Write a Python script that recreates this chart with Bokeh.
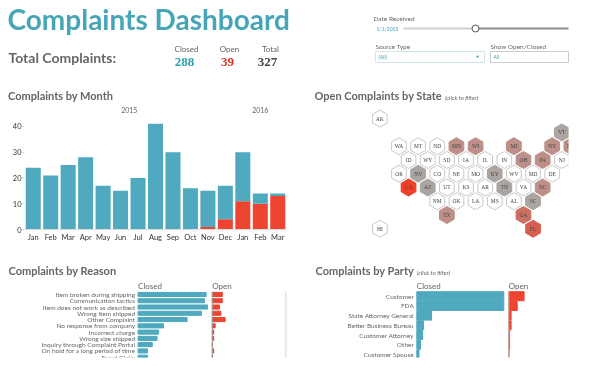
from bokeh.plotting import figure
from bokeh.layouts import column, row
from bokeh.models import Range1d, ColumnDataSource
from bokeh.core.properties import value
from bokeh.embed import file_html
from bokeh.resources import INLINE

# ---------- data ----------
months = ["Jan","Feb","Mar","Apr","May","Jun","Jul","Aug","Sep","Oct","Nov","Dec","Jan","Feb","Mar"]
month_total = [24,21,25,28,17,15,20,41,30,16,15,17,30,14,14]
month_open = [0,0,0,0,0,0,0,0,0,0,1,4,11,10,13]
years = ["2015","2016"]
year_center = [5.5,13]

states = ["AK","VT","WA","MT","ND","MN","WI","MI","NY","MA","ID","WY","SD","IA","IL","IN","OH","PA","NJ",
          "OR","NV","CO","NE","MO","KY","WV","MD","DE","CA","AZ","UT","KS","AR","TN","VA","NC",
          "NM","OK","LA","MS","AL","SC","TX","GA","FL","HI"]
state_col = [0,19,2,4,6,8,10,14,18,20,3,5,7,9,11,13,15,17,19,
             2,4,6,8,10,12,14,16,18,3,5,7,9,11,13,15,17,
             6,8,10,12,14,16,7,15,16,0]
state_row = [-2,-1,0,0,0,0,0,0,0,0,1,1,1,1,1,1,1,1,1,
             2,2,2,2,2,2,2,2,2,3,3,3,3,3,3,3,3,
             4,4,4,4,4,4,5,5,6,6]
state_open = [0,1,0,0,0,2,2,2,2,2,0,0,0,0,0,0,2,2,0,
              0,1,0,0,0,1,0,0,0,6,1,0,0,0,1,0,2,
              0,0,0,0,0,1,2,3,4,0]
state_tone = {0:"#ffffff",1:"#aba5a2",2:"#bd8f88",3:"#cb6f61",4:"#d85f50",6:"#ee4028"}

reasons = ["Item broken during shipping","Communication tactics","Item does not work as described",
           "Wrong item shipped","Other Complaint","No response from company","Incorrect charge",
           "Wrong size shipped","Inquiry through Complaint Portal","On hold for a long period of time","Fraud Claim"]
reason_closed = [43,42,44,40,31,16,13,12,9,6,6]
reason_open = [7,7,5,6,9,2,1,1,0,1,0]

parties = ["Customer","FDA","State Attorney General","Better Business Bureau","Customer Attorney","Other","Customer Spouse"]
party_closed = [118,118,20,9,8,5,3]
party_open = [20,11,3,3,1,1,0]

TEAL = "#4fa9bf"; RED = "#ee4530"; GREY = "#666666"
SANS = "Lato"

month_closed = [t-o for t,o in zip(month_total, month_open)]
n_open = sum(month_open); n_total = sum(month_total); n_closed = n_total-n_open

def bare(p):
    p.axis.visible = False
    p.grid.visible = False
    p.outline_line_color = None
    p.background_fill_color = None
    p.border_fill_color = None

def heading(p, x, y, txt):
    p.text([x],[y],text=[txt],text_font=value(SANS),text_font_size="11px",text_font_style="bold",
           text_color=GREY,text_align="left",text_baseline="middle")
def hint(p, x, y):
    p.text([x],[y],text=["(click to filter)"],text_font=value(SANS),text_font_size="6px",text_font_style="italic",
           text_color=GREY,text_align="left",text_baseline="middle")

# ---------- header ----------
h = figure(width=581, height=85, x_range=Range1d(0,581), y_range=Range1d(85,0), output_backend="svg",
           toolbar_location=None, min_border=0)
bare(h)
def T(x,y,t,size,color=GREY,style="normal",font=SANS,align="left"):
    h.text([x],[y],text=[t],text_font=value(font),text_font_size=size,text_font_style=style,
           text_color=color,text_align=align,text_baseline="middle")
T(7,18,"Complaints Dashboard","28px","#47a5b8","bold")
T(8,57,"Total Complaints:","14px",GREY,"bold")
T(186,48,"Closed","8px",GREY,"normal",align="center")
T(229,48,"Open","8px",GREY,"normal",align="center")
T(270,48,"Total","8px",GREY,"normal",align="center")
T(184,61,str(n_closed),"13px","#2f9db3","bold","Liberation Serif","center")
T(227,61,str(n_open),"13px","#e0301e","bold","Liberation Serif","center")
T(267,61,str(n_total),"13px","#444444","bold","Liberation Serif","center")
T(373,18,"Date Received","6.5px")
T(376,28,"1/1/2015","5px","#3f9fb5")
h.line([403,475],[28,28],line_color="#d0d0d0",line_width=2)
h.line([475,568],[28,28],line_color="#8a8a8a",line_width=2)
h.scatter([475],[28],size=7,fill_color="white",line_color="#555555",line_width=1)
T(375,46,"Source Type","6.5px")
T(490,46,"Show Open/Closed","6.5px")
h.quad(left=[375],right=[484],top=[51],bottom=[62],fill_color="white",line_color="#cfe6ec")
h.quad(left=[490],right=[568],top=[51],bottom=[62],fill_color="white",line_color="#cccccc")
T(378,56.5,"(All)","5px","#3f9fb5")
T(493,56.5,"All","5px","#3f9fb5")
h.scatter([477],[56],marker="inverted_triangle",size=3,fill_color="#3f9fb5",line_color=None)

# ---------- month ----------
m = figure(width=300, height=173, x_range=Range1d(-0.5,14.5), y_range=Range1d(0,48.9),
           output_backend="svg", toolbar_location=None, min_border_left=24, min_border_right=14,
           min_border_top=0, min_border_bottom=29)
m.title.text = "Complaints by Month"
m.title.text_font = SANS; m.title.text_font_style = "bold"; m.title.text_font_size = "11px"
m.title.text_color = GREY; m.title.offset = -16.5; m.title.standoff = 3
m.grid.visible=False; m.outline_line_color=None
src = ColumnDataSource(dict(x=list(range(15)),closed=month_closed,open=month_open))
m.vbar_stack(["open","closed"],x="x",width=0.86,color=[RED,TEAL],source=src,line_color=None)
m.text(year_center,[46.4,46.4],text=years,text_font=value(SANS),text_font_size="7px",text_color=GREY,
       text_align="center",text_baseline="middle")
m.xaxis.ticker=list(range(15))
m.xaxis.major_label_overrides={i:s for i,s in enumerate(months)}
m.yaxis.ticker=[0,10,20,30,40]
for ax in (m.xaxis[0],m.yaxis[0]):
    ax.major_label_text_font=SANS; ax.major_label_text_font_size="7.5px"; ax.major_label_text_color="#333333"
    ax.major_tick_line_color="#cccccc"; ax.minor_tick_line_color=None
    ax.major_tick_in=0; ax.major_tick_out=2; ax.major_label_standoff=1
m.xaxis.axis_line_color="#dddddd"; m.xaxis.major_tick_line_color=None
m.yaxis.axis_line_color=None

# ---------- state ----------
s = figure(width=281, height=173, x_range=Range1d(-6.82,19.7), y_range=Range1d(7.07,-4.41),
           output_backend="svg", toolbar_location=None, min_border_left=14, min_border_right=13,
           min_border_top=0, min_border_bottom=15)
bare(s)
heading(s,-6.82,-3.68,"Open Complaints by State")
hint(s,6.8,-3.54)
ssrc = ColumnDataSource(dict(x=state_col,y=state_row,st=states,
                             c=[state_tone[v] for v in state_open],
                             l=["#c8c8c8" if v==0 else state_tone[v] for v in state_open]))
s.scatter("x","y",marker="hex",angle=1.5708,size=17,fill_color="c",line_color="l",line_width=1,source=ssrc)
s.text("x","y",text="st",text_font=value("Liberation Serif"),text_font_size="5.5px",text_color="#444444",
       text_align="center",text_baseline="middle",source=ssrc)

# ---------- bars ----------
def panel(w,left,yr,xr):
    p = figure(width=w,height=109,x_range=xr,y_range=yr,output_backend="svg",toolbar_location=None,
               min_border_left=left,min_border_right=0,min_border_top=0,min_border_bottom=10)
    bare(p)
    return p
def lab(p,x,y,t):
    p.text([x],[y],text=[t],text_font=value(SANS),text_font_size="8px",text_color=GREY,
           text_align="left",text_baseline="middle")

CS=1.584; OS=1.43
RY=(10.05,-5.74); PY=(6.32,-3.89)
rc = panel(208,8,Range1d(*RY),Range1d(-129.7/CS,70.5/CS))
rc.hbar(y=list(range(11)),left=0,right=reason_closed,height=0.65,color=TEAL)
rc.text(0,list(range(11)),text=reasons,x_offset=-3,text_font=value(SANS),text_font_size="6.5px",text_color=GREY,
        text_align="right",text_baseline="middle")
lab(rc,0,-1.32,"Closed")
heading(rc,-129.7/CS,-3.75,"Complaints by Reason")

ro = panel(82,0,Range1d(*RY),Range1d(-3.8/OS,78.2/OS))
ro.hbar(y=list(range(11)),left=0,right=reason_open,height=0.65,color=RED)
ro.segment(0,-0.48,0,10.05,line_color="#999999",line_width=1)
ro.segment(73.4/OS,-0.48,73.4/OS,10.05,line_color="#e8e8e8",line_width=2)
lab(ro,0,-1.32,"Open")

PS=87/118; QS=15.3/20
pc = panel(215,25,Range1d(*PY),Range1d(-101.3/PS,88.7/PS))
pc.hbar(y=list(range(7)),left=0,right=party_closed,height=0.93,color=TEAL)
pc.text(0,list(range(7)),text=parties,x_offset=-3,text_font=value(SANS),text_font_size="6.5px",text_color=GREY,
        text_align="right",text_baseline="middle")
lab(pc,0,-1.03,"Closed")
heading(pc,-101.3/PS,-2.65,"Complaints by Party")
hint(pc,0,-2.44)

po = panel(76,0,Range1d(*PY),Range1d(-3.3/QS,72.7/QS))
po.hbar(y=list(range(7)),left=0,right=party_open,height=0.93,color=RED)
po.segment(0,-0.48,0,6.32,line_color="#bbbbbb",line_width=1)
lab(po,0,-1.03,"Open")

page = column(h,row(m,column(s)),row(rc,ro,pc,po),margin=(0,0,0,0),styles={"filter":"blur(0.45px)"})
open("out.html","w").write(file_html(page,INLINE))
